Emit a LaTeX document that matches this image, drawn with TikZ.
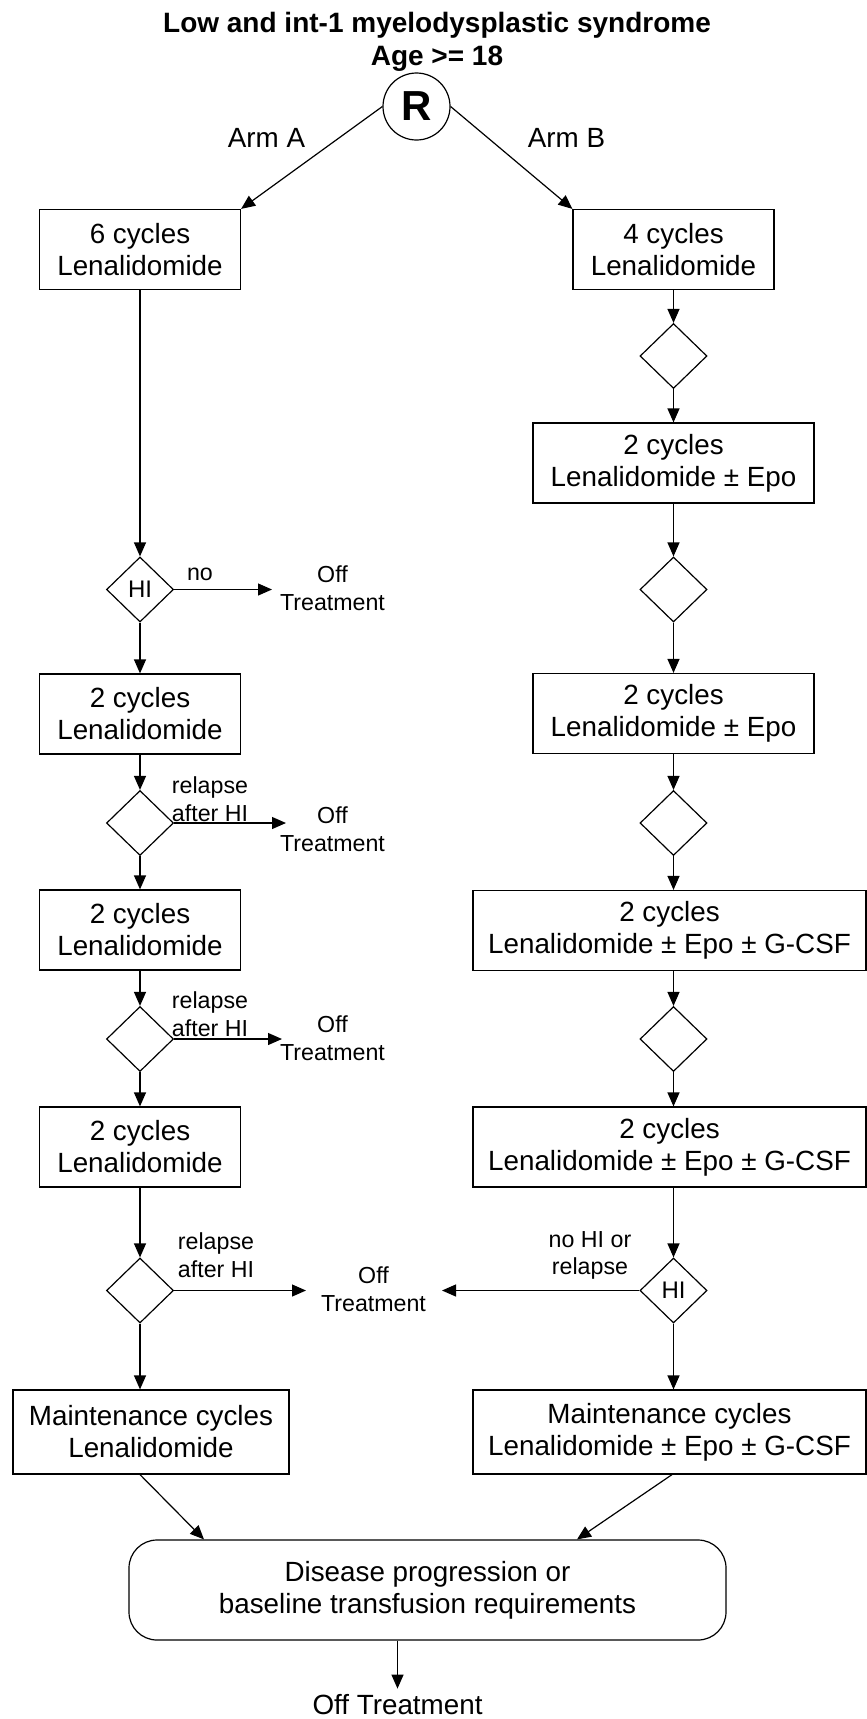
\documentclass[tikz,border=0pt]{standalone}
\usepackage{fontspec}
\setmainfont{Liberation Sans}
\usetikzlibrary{shapes.geometric,arrows.meta}
\begin{document}
\begin{tikzpicture}[x=1pt,y=-1pt,
  every node/.style={font=\fontsize{27.8}{32}\selectfont, inner sep=0pt},
  box/.style={draw, line width=1.2pt, align=center, minimum height=80pt},
  dia/.style={draw, diamond, line width=1.2pt, minimum width=67pt, minimum height=65pt},
  lbl/.style={font=\fontsize{23.2}{27.7}\selectfont, align=center},
  arr/.style={line width=1.2pt, -{Triangle[length=14pt,width=12pt]}},
]
\useasboundingbox (0,0) rectangle (867,1719);

% title and randomisation
\node[font=\bfseries\fontsize{28}{33}\selectfont, align=center] (title) at (437,41.5) {Low and int-1 myelodysplastic syndrome\\Age >= 18};
\node[circle, draw, line width=1.2pt, minimum size=67pt, font=\bfseries\fontsize{42}{42}\selectfont] (R) at (416.5,106.5) {R};
\node (armA) at (266.5,138) {Arm A};
\node (armB) at (566.5,138) {Arm B};

% arm A
\node[box, minimum width=201pt] (A1) at (140,249.5) {6 cycles\\Lenalidomide};
\node[dia, font=\fontsize{24}{24}\selectfont] (HIA) at (140,589.5) {HI};
\node[box, minimum width=201pt] (A2) at (140,714) {2 cycles\\Lenalidomide};
\node[dia] (DA2) at (140,823) {};
\node[box, minimum width=201pt] (A3) at (140,930) {2 cycles\\Lenalidomide};
\node[dia] (DA3) at (140,1039) {};
\node[box, minimum width=201pt] (A4) at (140,1147) {2 cycles\\Lenalidomide};
\node[dia] (DA4) at (140,1290.5) {};
\node[box, minimum width=276pt, minimum height=84pt] (A5) at (151,1432) {Maintenance cycles\\Lenalidomide};

% arm B
\node[box, minimum width=201pt] (B1) at (673.5,249.5) {4 cycles\\Lenalidomide};
\node[dia] (DB1) at (673.5,356) {};
\node[box, minimum width=281pt] (B2) at (673.5,463) {2 cycles\\Lenalidomide ± Epo};
\node[dia] (DB2) at (673.5,589.5) {};
\node[box, minimum width=281pt] (B3) at (673.5,713.5) {2 cycles\\Lenalidomide ± Epo};
\node[dia] (DB3) at (673.5,823) {};
\node[box, minimum width=393pt] (B4) at (669.5,930.5) {2 cycles\\Lenalidomide ± Epo ± G-CSF};
\node[dia] (DB4) at (673.5,1039) {};
\node[box, minimum width=393pt] (B5) at (669.5,1147) {2 cycles\\Lenalidomide ± Epo ± G-CSF};
\node[dia, font=\fontsize{24}{24}\selectfont] (HIB) at (673.5,1290.5) {HI};
\node[box, minimum width=393pt, minimum height=84pt] (B6) at (669.5,1432) {Maintenance cycles\\Lenalidomide ± Epo ± G-CSF};

% off-treatment labels
\node[lbl] (off1) at (332.5,588) {Off\\Treatment};
\node[lbl] (off2) at (332.5,829) {Off\\Treatment};
\node[lbl] (off3) at (332.5,1038) {Off\\Treatment};
\node[lbl] (off4) at (373.5,1289) {Off\\Treatment};

% branch labels
\node[lbl] (no) at (200,574) {no};
\node[lbl] (rel2) at (210,799) {relapse\\after HI};
\node[lbl] (rel3) at (210,1014) {relapse\\after HI};
\node[lbl] (rel4) at (216,1255.5) {relapse\\after HI};
\node[lbl] (noHI) at (590,1255.5) {no HI or\\relapse};

% final
\node[draw, rounded corners=28pt, line width=1.2pt, minimum width=597pt, minimum height=100pt, align=center] (dis) at (427.5,1590) {Disease progression or\\baseline transfusion requirements};
\node (offF) at (397.5,1705) {Off Treatment};

% arrow tip coordinates
\coordinate (t1) at (272,589.5);
\coordinate (t2) at (286,823);
\coordinate (t3) at (282,1039);
\coordinate (t4) at (306,1290.5);
\coordinate (t5) at (442,1290.5);

% connectors
\draw[arr] (R.west) -- (A1.north east);
\draw[arr] (R.east) -- (B1.north west);

\draw[arr] (A1.south) -- (HIA.north);
\draw[arr] (HIA.south) -- (A2.north);
\draw[arr] (A2.south) -- (DA2.north);
\draw[arr] (DA2.south) -- (A3.north);
\draw[arr] (A3.south) -- (DA3.north);
\draw[arr] (DA3.south) -- (A4.north);
\draw[arr] (A4.south) -- (DA4.north);
\draw[arr] (DA4.south) -- (DA4.south |- A5.north);

\draw[arr] (B1.south) -- (DB1.north);
\draw[arr] (DB1.south) -- (B2.north);
\draw[arr] (B2.south) -- (DB2.north);
\draw[arr] (DB2.south) -- (B3.north);
\draw[arr] (B3.south) -- (DB3.north);
\draw[arr] (DB3.south) -- (DB3.south |- B4.north);
\draw[arr] (DB3.south |- B4.south) -- (DB4.north);
\draw[arr] (DB4.south) -- (DB4.south |- B5.north);
\draw[arr] (DB4.south |- B5.south) -- (HIB.north);
\draw[arr] (HIB.south) -- (HIB.south |- B6.north);

\draw[arr] (HIA.east) -- (t1);
\draw[arr] (DA2.east) -- (t2);
\draw[arr] (DA3.east) -- (t3);
\draw[arr] (DA4.east) -- (t4);
\draw[arr] (HIB.west) -- (t5);

\draw[arr] ([xshift=-11pt]A5.south) -- ([xshift=-223.5pt]dis.north);
\draw[arr] ([xshift=2.5pt]B6.south) -- ([xshift=149.5pt]dis.north);
\draw[arr] (dis.south -| offF.north) -- ([yshift=6pt]offF.north);
\end{tikzpicture}
\end{document}
